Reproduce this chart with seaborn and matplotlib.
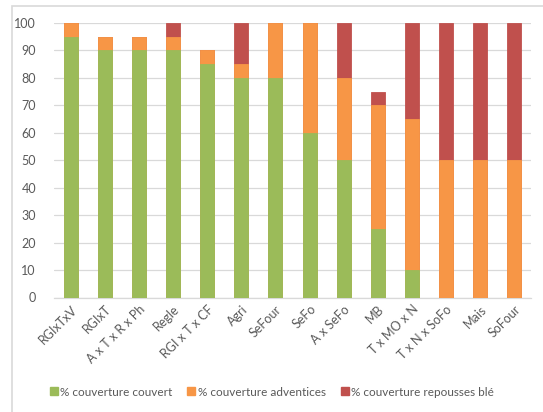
import matplotlib
matplotlib.use("Agg")
import matplotlib.pyplot as plt
from matplotlib.patches import Rectangle
from matplotlib.lines import Line2D
import numpy as np
import pandas as pd
import seaborn as sns

categories = ["RGIxTxV", "RGIxT", "A x T x R x Ph", "Regle", "RGI x T x CF",
              "Agri", "SeFour", "SeFo", "A x SeFo", "MB", "T x MO x N",
              "T x N x SoFo", "Mais", "SoFour"]
couvert = [95, 90, 90, 90, 85, 80, 80, 60, 50, 25, 10, 0, 0, 0]
adventices = [5, 5, 5, 5, 5, 5, 20, 40, 30, 45, 55, 50, 50, 50]
repousses = [0, 0, 0, 5, 0, 15, 0, 0, 20, 5, 35, 50, 50, 50]
series_names = ["% couverture couvert", "% couverture adventices",
                "% couverture repousses blé"]
yticks = [0, 10, 20, 30, 40, 50, 60, 70, 80, 90, 100]

colors = ["#9BBB59", "#F79646", "#C0504D"]
text_color = "#595959"

sns.set_theme(style="white")
plt.rcParams["font.family"] = ["Lato", "DejaVu Sans"]

df = pd.DataFrame({"cat": categories, "couvert": couvert,
                   "adventices": adventices, "repousses": repousses})
df["lvl1"] = df["couvert"]
df["lvl2"] = df["couvert"] + df["adventices"]
df["lvl3"] = df["lvl2"] + df["repousses"]

fig = plt.figure(figsize=(5.43, 4.12), dpi=100)
ax = fig.add_axes([54 / 543, 1 - 297.5 / 412, (531 - 54) / 543, (297.5 - 23) / 412])

# cumulative stacks, drawn tallest first
for col, c in zip(["lvl3", "lvl2", "lvl1"], colors[::-1]):
    sns.barplot(data=df, x="cat", y=col, color=c, width=0.41, ax=ax,
                saturation=1, edgecolor=c, linewidth=0.6, zorder=3)

ax.set_ylim(0, 100)
ax.set_xlim(-0.5, len(categories) - 0.5)
ax.set_yticks(yticks)
ax.yaxis.grid(True, color="#D9D9D9", linewidth=0.9, zorder=0)
ax.set_axisbelow(True)
for s in ["top", "right", "left"]:
    ax.spines[s].set_visible(False)
ax.spines["bottom"].set_color("#D9D9D9")
ax.spines["bottom"].set_linewidth(0.9)
ax.set_xlabel("")
ax.set_ylabel("")
ax.tick_params(axis="both", length=0, colors=text_color, labelsize=9)
ax.tick_params(axis="y", pad=13)
ax.set_xticks(range(len(categories)))
ax.set_xticklabels(categories, rotation=45, ha="right", rotation_mode="anchor",
                   color=text_color, fontsize=9)
ax.tick_params(axis="x", pad=4)

handles = [Line2D([], [], marker="s", linestyle="none", markersize=5.5,
                  markerfacecolor=c, markeredgecolor=c) for c in colors]
leg = fig.legend(handles, series_names, loc="center", ncol=3,
                 bbox_to_anchor=(271 / 543, 1 - 392 / 412), frameon=False,
                 fontsize=8.5, handletextpad=0.05, columnspacing=1.1,
                 handlelength=1.0)
for t in leg.get_texts():
    t.set_color(text_color)

# chart area outline
fig.patches.append(Rectangle((11.5 / 543, -0.2), 1.2, 1.2 - 6.5 / 412,
                             transform=fig.transFigure, fill=False,
                             edgecolor="#D9D9D9", linewidth=1.2))

fig.savefig("out.png", dpi=100)
